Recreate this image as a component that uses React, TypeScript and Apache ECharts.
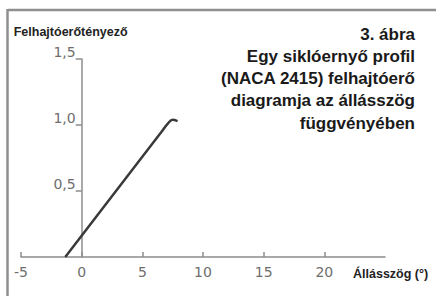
import React, { useEffect, useRef } from "react";
import * as echarts from "echarts";

const angles = [-1.35, 6.6, 7.1, 7.5, 7.9];
const liftCoeff = [0, 0.95, 1.01, 1.04, 1.03];
const xTicks = { min: -5, max: 25, interval: 5 };
const yTicks = { min: 0, max: 1.5, interval: 0.5 };
const yAxisName = "Felhajtóerőtényező";
const xAxisName = "Állásszög (°)";
const titleLines = [
  "3. ábra",
  "Egy siklóernyő profil",
  "(NACA 2415) felhajtóerő",
  "diagramja az állásszög",
  "függvényében",
];

export default function App() {
  const ref = useRef<HTMLDivElement>(null);
  useEffect(() => {
    if (!ref.current) return;
    const chart = echarts.init(ref.current, null, { renderer: "svg" });
    const axisColor = "#8c8c8c";
    const gridLeft = 21;
    const gridRight = 51;
    const plotWidth = 436 - gridLeft - gridRight;
    const zeroOffset = ((0 - xTicks.min) / (xTicks.max - xTicks.min)) * plotWidth;
    chart.setOption({
      animation: false,
      backgroundColor: "#ffffff",
      grid: {
        left: gridLeft,
        right: gridRight,
        top: 59,
        bottom: 39,
        containLabel: false,
        outerBoundsMode: "none",
      },
      xAxis: {
        type: "value",
        min: xTicks.min,
        max: xTicks.max,
        interval: xTicks.interval,
        splitLine: { show: false },
        axisLine: { onZero: false, lineStyle: { color: axisColor, width: 1.5 } },
        axisTick: { inside: true, length: 5, lineStyle: { color: axisColor, width: 1.5 } },
        axisLabel: {
          showMaxLabel: false,
          margin: 8,
          color: "#6e6e6e",
          fontFamily: "DejaVu Sans",
          fontSize: 14,
        },
        name: xAxisName,
        nameLocation: "end",
        nameGap: -32,
        nameTextStyle: {
          align: "left",
          verticalAlign: "top",
          padding: [10, 0, 0, 0],
          color: "#222",
          fontFamily: "Liberation Sans",
          fontWeight: "bold",
          fontSize: 12.5,
        },
      },
      yAxis: {
        type: "value",
        min: yTicks.min,
        max: yTicks.max,
        interval: yTicks.interval,
        offset: -zeroOffset,
        splitLine: { show: false },
        axisLine: { show: true, onZero: false, lineStyle: { color: axisColor, width: 1.5 } },
        axisTick: { show: true, inside: false, length: 6, lineStyle: { color: axisColor, width: 1.5 } },
        axisLabel: {
          showMinLabel: false,
          margin: 6,
          verticalAlign: "bottom",
          color: "#6e6e6e",
          fontFamily: "DejaVu Sans",
          fontSize: 14,
          formatter: (v: number) => v.toFixed(1).replace(".", ","),
        },
        name: yAxisName,
        nameLocation: "end",
        nameGap: 27,
        nameTextStyle: {
          align: "center",
          verticalAlign: "middle",
          padding: [0, 22, 0, 0],
          color: "#222",
          fontFamily: "Liberation Sans",
          fontWeight: "bold",
          fontSize: 12.5,
        },
      },
      series: [
        {
          type: "line",
          data: angles.map((a, i) => [a, liftCoeff[i]]),
          smooth: 0.4,
          symbol: "none",
          lineStyle: { color: "#3a3a3a", width: 2.5 },
        },
      ],
      graphic: [
        {
          type: "line",
          shape: { x1: 8, y1: 10, x2: 436, y2: 10 },
          style: { stroke: "#8f8f8f", lineWidth: 2.5 },
        },
        {
          type: "line",
          shape: { x1: 7.5, y1: 9, x2: 7.5, y2: 296 },
          style: { stroke: "#8f8f8f", lineWidth: 2.5 },
        },
        ...titleLines.map((t, i) => ({
          type: "text",
          x: 415,
          y: 34 + i * 22.3,
          style: {
            text: t,
            align: "right",
            verticalAlign: "middle",
            fill: "#1a1a1a",
            font: "bold 17px 'Liberation Sans', Arial, sans-serif",
          },
        })),
      ],
    });
    return () => chart.dispose();
  }, []);
  return (
    <div
      ref={ref}
      style={{ position: "fixed", left: 0, top: 0, width: 436, height: 296 }}
    />
  );
}
